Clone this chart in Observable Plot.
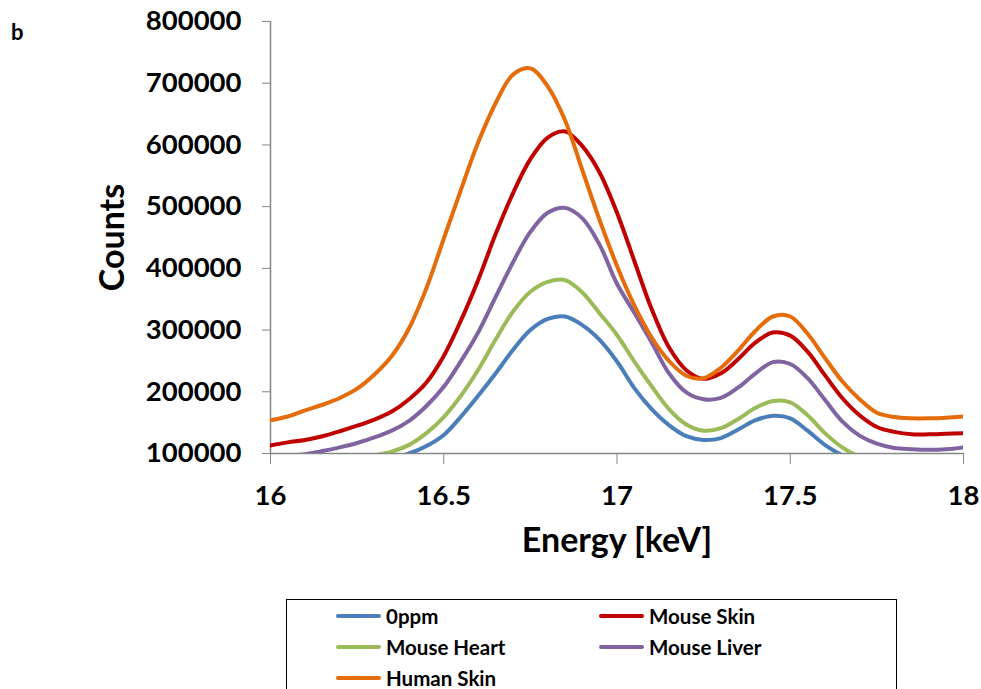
<!DOCTYPE html>
<html>
<head>
<meta charset="utf-8">
<script src="https://cdn.jsdelivr.net/npm/d3@7"></script>
<script src="https://cdn.jsdelivr.net/npm/@observablehq/plot@0.6"></script>
<style>
  body { margin: 0; background: #fff; }
  #wrap { position: relative; width: 981px; height: 689px; overflow: hidden; background: #fff;
          font-family: Lato, "Open Sans", sans-serif; font-weight: 700; color: #000; }
  #panel { position: absolute; left: 11px; top: 18px; font-size: 22px; }
  #chart { position: absolute; left: 0; top: 0; }
  #legend { position: absolute; left: 286px; top: 599px; width: 611px; height: 120px;
            border: 1px solid #000; box-sizing: border-box; }
  .item { position: absolute; height: 24px; display: flex; align-items: center; font-size: 20.5px; font-weight: 700; white-space: nowrap; }
  .sw { width: 45px; height: 4px; border-radius: 2px; margin-right: 5px; }
</style>
</head>
<body>
<div id="wrap">
  <div id="chart"></div>
  <div id="panel">b</div>
  <div id="legend"></div>
</div>
<script>
// Energy grid [keV]
const energy = [16.00,16.05,16.10,16.15,16.20,16.25,16.30,16.35,16.40,16.45,16.50,16.55,16.60,16.65,16.70,16.75,16.80,16.85,16.90,16.95,
                17.00,17.05,17.10,17.15,17.20,17.25,17.30,17.35,17.40,17.45,17.50,17.55,17.60,17.65,17.70,17.75,17.80,17.85,17.90,17.95,18.00];

const ppm0 = [60000,62000,65000,69000,74000,80000,86000,92000,100000,112000,130000,160000,194000,230000,268000,300000,318000,322000,308000,284000,
              249000,206000,172000,146000,128000,122000,125000,139000,154000,161000,157000,137000,114000,97000,85000,78000,74000,72000,71000,72000,73000];
const mouseSkin = [113000,118000,122000,128000,136000,145000,155000,168000,188000,215000,258000,316000,382000,456000,522000,577000,612000,622000,598000,555000,
                   490000,412000,334000,272000,235000,221000,230000,253000,280000,296000,291000,265000,227000,190000,162000,143000,135000,131000,131000,132000,133000];
const mouseHeart = [75000,77000,80000,84000,88000,92000,97000,103000,114000,133000,159000,194000,236000,285000,330000,362000,378000,381000,361000,327000,
                    292000,249000,209000,172000,147000,137000,141000,156000,174000,185000,183000,162000,133000,110000,95000,87000,83000,81000,80000,81000,83000];
const mouseLiver = [96000,97000,99000,104000,110000,117000,126000,137000,153000,177000,208000,250000,297000,354000,410000,459000,490000,498000,481000,438000,
                    375000,328000,280000,230000,199000,188000,190000,207000,230000,248000,245000,222000,187000,152000,129000,116000,109000,107000,106000,107000,110000];
const humanSkin = [154000,160000,170000,179000,190000,205000,228000,258000,303000,368000,448000,528000,605000,668000,714000,724000,695000,640000,559000,478000,
                   404000,340000,288000,250000,226000,222000,239000,267000,299000,322000,322000,294000,255000,217000,188000,166000,159000,157000,157000,158000,160000];

const seriesNames = ["0ppm", "Mouse Skin", "Mouse Heart", "Mouse Liver", "Human Skin"];
const seriesValues = [ppm0, mouseSkin, mouseHeart, mouseLiver, humanSkin];
const seriesColors = ["#4A7EBB", "#C00000", "#9BBB59", "#8064A2", "#E46C0A"];

const xTicks = [16, 16.5, 17, 17.5, 18];
const yTicks = [100000, 200000, 300000, 400000, 500000, 600000, 700000, 800000];

const rows = seriesNames.flatMap((name, s) =>
  energy.map((e, i) => ({energy: e, counts: seriesValues[s][i], series: name})));

const axisGrey = "#868686";

const chart = Plot.plot({
  width: 981,
  height: 560,
  marginLeft: 270,
  marginRight: 18,
  marginTop: 21,
  marginBottom: 107,
  style: {fontFamily: "Lato, 'Open Sans', sans-serif", fontWeight: 700, fontSize: "27.5px", color: "#000", background: "#fff", overflow: "visible"},
  x: {domain: [16, 18]},
  y: {domain: [100000, 800000]},
  color: {domain: seriesNames, range: seriesColors},
  marks: [
    Plot.axisY({ticks: yTicks, tickSize: 8, tickPadding: 21, stroke: axisGrey, fill: "#000", tickFormat: d => String(d), label: null}),
    Plot.axisX({ticks: xTicks, tickSize: 11, tickPadding: 21, stroke: axisGrey, fill: "#000", tickFormat: d => String(d), label: null}),
    Plot.ruleX([16], {stroke: axisGrey, strokeWidth: 1.5}),
    Plot.ruleY([100000], {stroke: axisGrey, strokeWidth: 1.5}),
    Plot.line(rows, {x: "energy", y: "counts", z: "series", stroke: "series", strokeWidth: 4, curve: "catmull-rom", clip: true}),
    Plot.text(["Energy [keV]"], {frameAnchor: "bottom", dy: 88, lineAnchor: "middle", textAnchor: "middle", fontSize: 34, fontWeight: 700, fill: "#000"}),
    Plot.text(["Counts"], {frameAnchor: "left", dx: -157, rotate: -90, lineAnchor: "middle", textAnchor: "middle", fontSize: 34, fontWeight: 700, fill: "#000"})
  ]
});
document.getElementById("chart").appendChild(chart);

// Legend (2 columns, row-major)
const legend = document.getElementById("legend");
const colX = [49, 312];
const rowY = [4, 35, 66];
seriesNames.forEach((name, i) => {
  const item = document.createElement("div");
  item.className = "item";
  item.style.left = colX[i % 2] + "px";
  item.style.top = rowY[Math.floor(i / 2)] + "px";
  const sw = document.createElement("div");
  sw.className = "sw";
  sw.style.background = seriesColors[i];
  const label = document.createElement("span");
  label.textContent = name;
  item.appendChild(sw);
  item.appendChild(label);
  legend.appendChild(item);
});
</script>
</body>
</html>
